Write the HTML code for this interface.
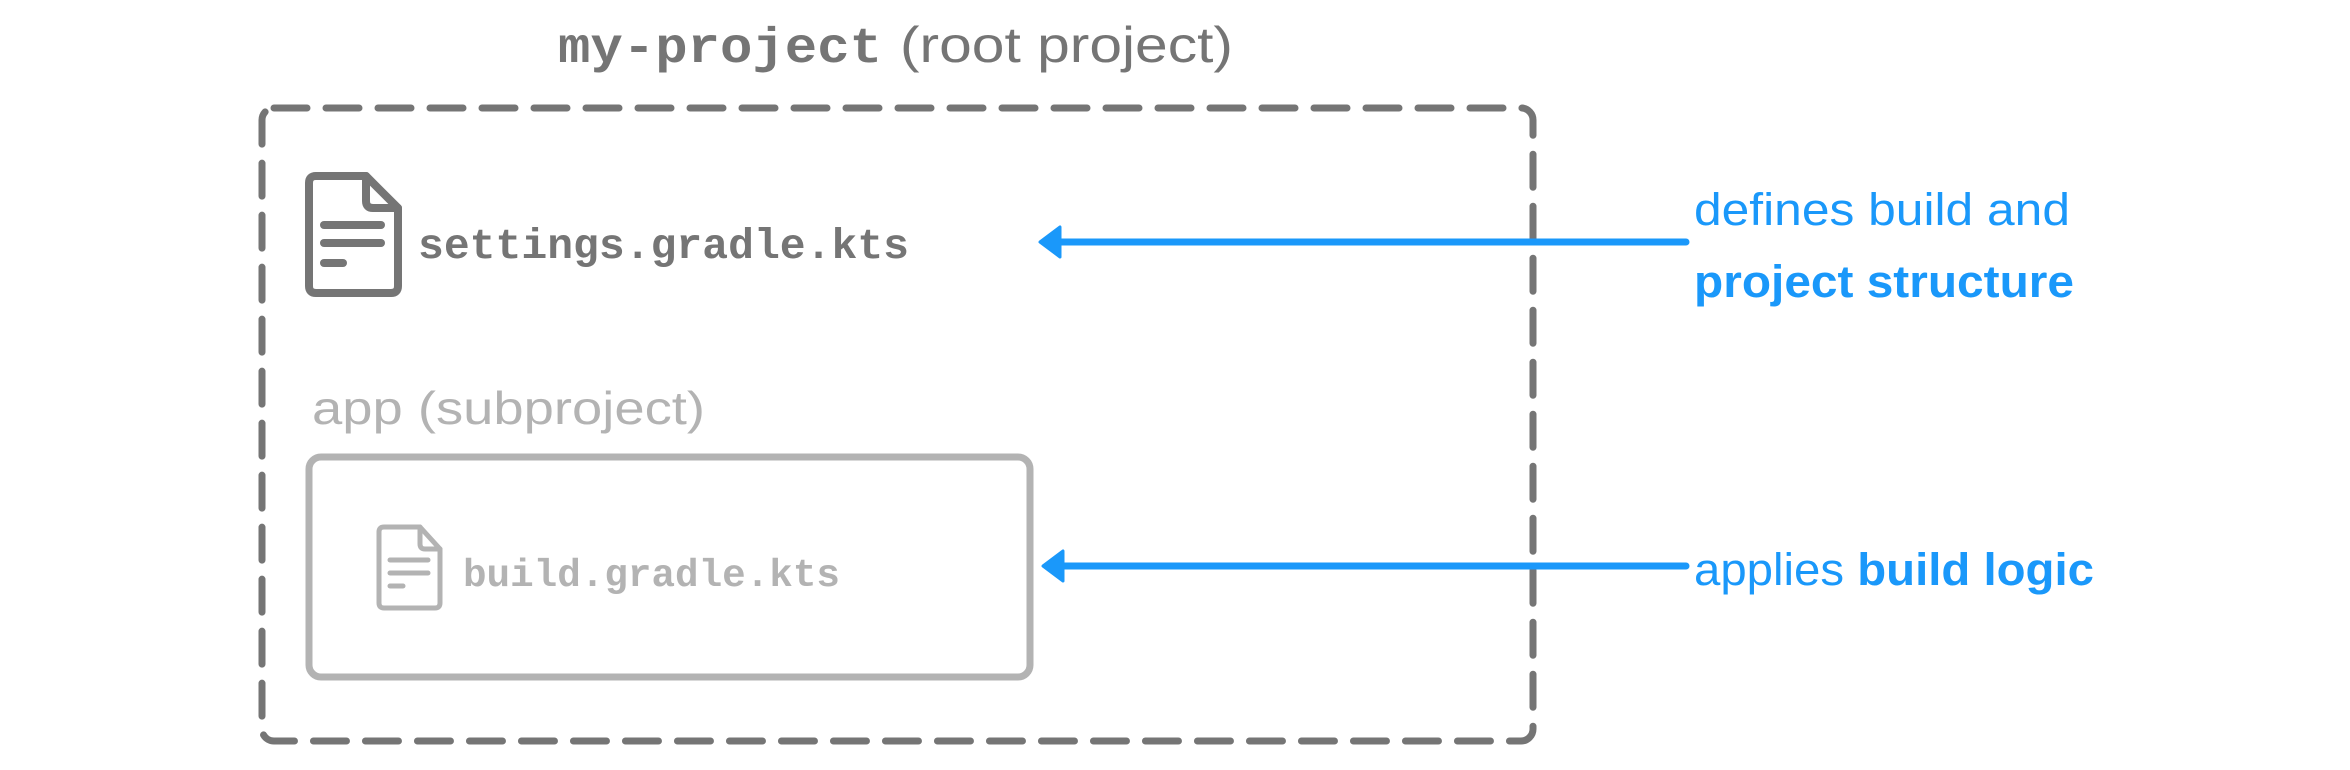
<!DOCTYPE html>
<html><head><meta charset="utf-8"><style>
html,body{margin:0;padding:0;background:#fff;}
svg{display:block;}
</style></head><body>
<svg width="2350" height="770" viewBox="0 0 2350 770" xmlns="http://www.w3.org/2000/svg">
<text x="558" y="62" font-family="Liberation Mono, monospace" font-weight="bold" font-size="50" fill="#757575" textLength="324" lengthAdjust="spacingAndGlyphs">my-project</text>
<text x="900" y="62" font-family="Liberation Sans, sans-serif" font-size="50" fill="#757575" textLength="333" lengthAdjust="spacingAndGlyphs">(root project)</text>
<rect x="262" y="108" width="1271" height="633" rx="12" fill="none" stroke="#757575" stroke-width="7" stroke-dasharray="33 19" stroke-linecap="round"/>
<!-- settings icon -->
<g fill="none" stroke="#757575" stroke-width="8" stroke-linejoin="round" stroke-linecap="round">
<path d="M366 176 H316 Q309 176 309 183 V286 Q309 293 316 293 H391 Q398 293 398 286 V208 Z"/>
<path d="M366 176 V201 Q366 208 373 208 H398"/>
<line x1="324" y1="225" x2="381" y2="225"/>
<line x1="324" y1="243" x2="381" y2="243"/>
<line x1="324" y1="263" x2="343" y2="263"/>
</g>
<text x="418" y="258" font-family="Liberation Mono, monospace" font-weight="bold" font-size="43" fill="#757575" textLength="491" lengthAdjust="spacingAndGlyphs">settings.gradle.kts</text>
<text x="312" y="424" font-family="Liberation Sans, sans-serif" font-size="46" fill="#b3b3b3" textLength="393" lengthAdjust="spacingAndGlyphs">app (subproject)</text>
<rect x="309" y="457" width="721" height="220" rx="12" fill="none" stroke="#b3b3b3" stroke-width="7"/>
<!-- build icon -->
<g fill="none" stroke="#b3b3b3" stroke-width="5" stroke-linejoin="round" stroke-linecap="round">
<path d="M420 527 H384 Q379 527 379 532 V603 Q379 608 384 608 H435 Q440 608 440 603 V549 Z"/>
<path d="M420 527 V544 Q420 549 425 549 H440"/>
<line x1="390" y1="560" x2="428" y2="560"/>
<line x1="390" y1="573" x2="428" y2="573"/>
<line x1="390" y1="586" x2="403" y2="586"/>
</g>
<text x="463" y="586" font-family="Liberation Mono, monospace" font-weight="bold" font-size="39" fill="#b3b3b3" textLength="377" lengthAdjust="spacingAndGlyphs">build.gradle.kts</text>
<!-- arrows -->
<g stroke="#1a98fa" stroke-width="7" stroke-linecap="round" fill="#1a98fa">
<line x1="1060" y1="242" x2="1686" y2="242"/>
<line x1="1063" y1="566" x2="1686" y2="566"/>
</g>
<path d="M1040 242 L1060 227 L1060 257 Z" fill="#1a98fa" stroke="#1a98fa" stroke-width="3" stroke-linejoin="round"/>
<path d="M1043 566 L1063 551 L1063 581 Z" fill="#1a98fa" stroke="#1a98fa" stroke-width="3" stroke-linejoin="round"/>
<g font-family="Liberation Sans, sans-serif" font-size="45" fill="#1a98fa" lengthAdjust="spacingAndGlyphs">
<text x="1694" y="225" textLength="376" lengthAdjust="spacingAndGlyphs">defines build and</text>
<text x="1694" y="297" font-weight="bold" textLength="380" lengthAdjust="spacingAndGlyphs">project structure</text>
<text x="1694" y="585" textLength="400" lengthAdjust="spacingAndGlyphs">applies <tspan font-weight="bold">build logic</tspan></text>
</g>
</svg>
</body></html>
